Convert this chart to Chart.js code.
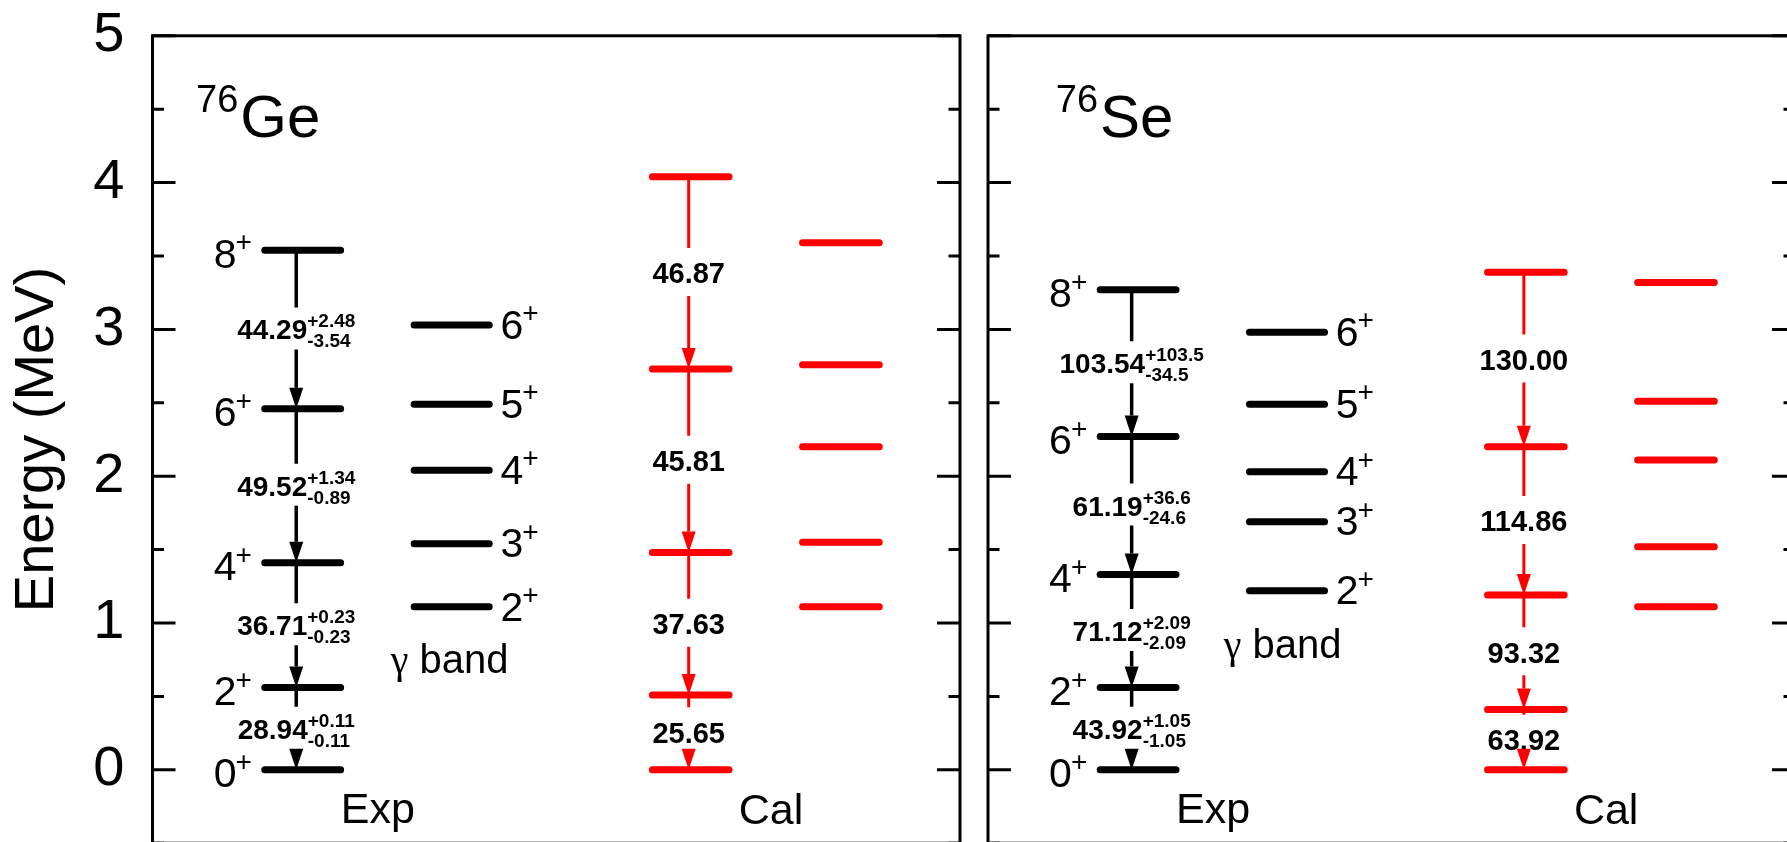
<!DOCTYPE html>
<html>
<head>
<meta charset="utf-8">
<title>Level schemes 76Ge / 76Se</title>
<script src="https://cdn.jsdelivr.net/npm/chart.js@4.4.0/dist/chart.umd.min.js"></script>
<style>
  html, body { margin: 0; padding: 0; background: #fff; overflow: hidden; }
  #wrap { position: relative; width: 1787px; height: 842px; overflow: hidden; }
  #wrap canvas { position: absolute; top: 0; }
</style>
</head>
<body>
<div id="wrap">
  <canvas id="chart-ge" width="975" height="884" style="left:0"></canvas>
  <canvas id="chart-se" width="835" height="884" style="left:975px"></canvas>
</div>
<script>
const FONT = '"Liberation Sans", Arial, Helvetica, sans-serif';
const GREEK = '"Liberation Serif", "Times New Roman", serif';

// spins of the ground band and of the gamma band (all positive parity)
const gsbSpins = ['0', '2', '4', '6', '8'];
const gammaSpins = ['2', '3', '4', '5', '6'];
const yTicks = [0, 1, 2, 3, 4, 5];

// 76Ge level energies (MeV)
const geExpGsb = [0, 0.56, 1.41, 2.46, 3.54];
const geExpGamma = [1.11, 1.54, 2.04, 2.49, 3.03];
const geCalGsb = [0, 0.51, 1.48, 2.73, 4.04];
const geCalGamma = [1.11, 1.55, 2.20, 2.76, 3.59];
// B(E2) (W.u.) for 2->0, 4->2, 6->4, 8->6
const geExpBE2 = [28.94, 36.71, 49.52, 44.29];
const geExpErrUp = [0.11, 0.23, 1.34, 2.48];
const geExpErrDown = [0.11, 0.23, 0.89, 3.54];
const geCalBE2 = [25.65, 37.63, 45.81, 46.87];

// 76Se level energies (MeV)
const seExpGsb = [0, 0.56, 1.33, 2.27, 3.27];
const seExpGamma = [1.22, 1.69, 2.03, 2.49, 2.98];
const seCalGsb = [0, 0.41, 1.19, 2.20, 3.39];
const seCalGamma = [1.11, 1.52, 2.11, 2.51, 3.32];
const seExpBE2 = [43.92, 71.12, 61.19, 103.54];
const seExpErrUp = [1.05, 2.09, 36.6, 103.5];
const seExpErrDown = [1.05, 2.09, 24.6, 34.5];
const seCalBE2 = [63.92, 93.32, 114.86, 130.00];

// column layout on a 0..100 x scale
const cols = {
  expGsb: [13.9, 23.3],
  expGamma: [32.4, 41.7],
  calGsb: [61.9, 71.4],
  calGamma: [80.5, 90.0]
};
const arrowX = { exp: 17.8, cal: 66.4 };
const spinLeftX = 12.3;   // right edge of ground band spin labels
const spinRightX = 43.1;  // left edge of gamma band spin labels

const BLACK = '#000000';
const RED = '#ff0000';

const levelSegments = (energies, span) => {
  const pts = [];
  energies.forEach(e => {
    pts.push({ x: span[0], y: e }, { x: span[1], y: e }, { x: span[1], y: null });
  });
  return pts;
};

const levelDataset = (label, energies, span, color) => ({
  label: label,
  data: levelSegments(energies, span),
  borderColor: color,
  borderWidth: 7,
  borderCapStyle: 'round',
  pointRadius: 0,
  pointHoverRadius: 0,
  spanGaps: false,
  fill: false,
  tension: 0
});

function drawSpin(ctx, px, py, spin, alignRight, dy) {
  ctx.font = `41px ${FONT}`;
  const wd = ctx.measureText(spin).width;
  ctx.font = `28px ${FONT}`;
  const wp = ctx.measureText('+').width;
  const x0 = alignRight ? px - (wd + wp - 1) : px;
  const c = py + dy;
  ctx.textAlign = 'left';
  ctx.textBaseline = 'alphabetic';
  ctx.font = `41px ${FONT}`;
  ctx.fillText(spin, x0, c + 0.358 * 41);
  ctx.font = `28px ${FONT}`;
  ctx.fillText('+', x0 + wd - 1, c - 2);
}

function drawBE2(ctx, cx, cy, value, up, down, size) {
  const main = value.toFixed(2);
  ctx.textAlign = 'left';
  ctx.textBaseline = 'alphabetic';
  ctx.fillStyle = BLACK;
  ctx.font = `bold ${size}px ${FONT}`;
  const wm = ctx.measureText(main).width;
  let ws = 0;
  let sUp = null, sDown = null;
  if (up != null) {
    sUp = '+' + String(up);
    sDown = '-' + String(down);
    ctx.font = `bold 19px ${FONT}`;
    ws = Math.max(ctx.measureText(sUp).width, ctx.measureText(sDown).width);
  }
  const x0 = cx - (wm + ws) / 2;
  ctx.font = `bold ${size}px ${FONT}`;
  ctx.fillText(main, x0, cy + 0.358 * size);
  if (sUp) {
    ctx.font = `bold 19px ${FONT}`;
    ctx.fillText(sUp, x0 + wm, cy - 2);
    ctx.fillText(sDown, x0 + wm, cy + 18);
  }
}

function drawArrow(ctx, px, yTop, yBot, gapTop, gapBot, color, lw) {
  const head = 21, half = 7;
  ctx.strokeStyle = color;
  ctx.fillStyle = color;
  ctx.lineWidth = lw;
  ctx.lineCap = 'butt';
  ctx.beginPath();
  ctx.moveTo(px, yTop);
  ctx.lineTo(px, Math.max(yTop, gapTop));
  if (gapBot < yBot - head) {
    ctx.moveTo(px, gapBot);
    ctx.lineTo(px, yBot - head);
  }
  ctx.stroke();
  ctx.beginPath();
  ctx.moveTo(px - half, yBot - head);
  ctx.lineTo(px + half, yBot - head);
  ctx.lineTo(px, yBot);
  ctx.closePath();
  ctx.fill();
}

// frame, inward ticks, labels and B(E2) arrows for one nucleus
function schemePlugin(p) {
  return {
    id: 'scheme',
    afterDatasetsDraw(chart) {
      const { ctx, chartArea: a, scales: { x, y } } = chart;
      const X = v => x.getPixelForValue(v);
      const Y = v => y.getPixelForValue(v);
      ctx.save();

      ctx.strokeStyle = BLACK;
      ctx.lineWidth = 3;
      ctx.lineCap = 'butt';
      ctx.strokeRect(a.left, a.top, a.right - a.left, a.bottom - a.top);
      ctx.beginPath();
      yTicks.forEach(v => {
        const py = Y(v);
        ctx.moveTo(a.left, py); ctx.lineTo(a.left + 23, py);
        ctx.moveTo(a.right, py); ctx.lineTo(a.right - 23, py);
        const pm = Y(v - 0.5);
        ctx.moveTo(a.left, pm); ctx.lineTo(a.left + 11.5, pm);
        ctx.moveTo(a.right, pm); ctx.lineTo(a.right - 11.5, pm);
      });
      ctx.stroke();

      ctx.fillStyle = BLACK;
      // nucleus name with mass number
      const tx = X(p.titleAt[0]), ty = Y(p.titleAt[1]);
      ctx.textAlign = 'left';
      ctx.textBaseline = 'alphabetic';
      ctx.font = `38px ${FONT}`;
      ctx.fillText(p.nucleus[0], tx, ty - 25);
      const wMass = ctx.measureText(p.nucleus[0]).width;
      ctx.font = `60px ${FONT}`;
      ctx.fillText(p.nucleus[1], tx + wMass + 2, ty);

      // column captions
      ctx.font = `43px ${FONT}`;
      ctx.textAlign = 'center';
      ctx.fillText('Exp', X(27.9), Y(-0.36));
      ctx.fillText('Cal', X(76.6), Y(-0.37));
      ctx.textAlign = 'left';
      const bx = X(p.bandAt[0]), by = Y(p.bandAt[1]);
      ctx.font = `40px ${GREEK}`;
      ctx.fillText('\u03b3', bx, by);
      const wg = ctx.measureText('\u03b3').width;
      ctx.font = `40px ${FONT}`;
      ctx.fillText(' band', bx + wg, by);

      // spin labels of the measured levels
      p.expGsb.forEach((e, i) => drawSpin(ctx, X(spinLeftX), Y(e), gsbSpins[i], true, 3));
      p.expGamma.forEach((e, i) => drawSpin(ctx, X(spinRightX), Y(e), gammaSpins[i], false, -1));

      // in-band E2 transitions
      for (let i = 1; i < p.expGsb.length; i++) {
        const y1 = Y(p.expGsb[i]), y2 = Y(p.expGsb[i - 1]);
        const c = (y1 + y2) / 2;
        drawBE2(ctx, X(arrowX.exp), c, p.expBE2[i - 1], p.errUp[i - 1], p.errDown[i - 1], 28);
        drawArrow(ctx, X(arrowX.exp), y1, y2, c - 22, c + 20, BLACK, 3.5);
      }
      for (let i = 1; i < p.calGsb.length; i++) {
        const y1 = Y(p.calGsb[i]), y2 = Y(p.calGsb[i - 1]);
        const c = (y1 + y2) / 2;
        drawBE2(ctx, X(arrowX.cal), c, p.calBE2[i - 1], null, null, 29);
        drawArrow(ctx, X(arrowX.cal), y1, y2, c - 25, c + 23, RED, 3);
      }
      ctx.restore();
    }
  };
}

function makeChart(p) {
  const ctx = document.getElementById(p.canvas);
  const yScale = {
    type: 'linear',
    min: -0.5,
    max: 5,
    display: p.showAxis,
    afterBuildTicks: s => { s.ticks = yTicks.map(v => ({ value: v })); },
    grid: { display: false, drawTicks: false },
    border: { display: false },
    ticks: { color: BLACK, padding: 28, font: { family: FONT, size: 56 } },
    title: {
      display: true,
      text: 'Energy (MeV)',
      color: BLACK,
      padding: { top: 4, bottom: 0 },
      font: { family: FONT, size: 56 }
    }
  };
  if (p.showAxis) {
    // fixed axis width; tick labels must not push the plot area inwards
    yScale.afterFit = s => {
      s.width = 152.5;
      s.paddingTop = 0;
      s.paddingBottom = 0;
    };
  }
  return new Chart(ctx, {
    type: 'line',
    data: {
      datasets: [
        levelDataset('Exp g.s. band', p.expGsb, cols.expGsb, BLACK),
        levelDataset('Exp gamma band', p.expGamma, cols.expGamma, BLACK),
        levelDataset('Cal g.s. band', p.calGsb, cols.calGsb, RED),
        levelDataset('Cal gamma band', p.calGamma, cols.calGamma, RED)
      ]
    },
    options: {
      responsive: false,
      maintainAspectRatio: false,
      animation: false,
      events: [],
      layout: { padding: p.padding },
      plugins: { legend: { display: false }, tooltip: { enabled: false }, title: { display: false } },
      scales: {
        x: { type: 'linear', min: 0, max: 100, display: false },
        y: yScale
      }
    },
    plugins: [schemePlugin(p)]
  });
}

makeChart({
  canvas: 'chart-ge',
  nucleus: ['76', 'Ge'],
  expGsb: geExpGsb, expGamma: geExpGamma,
  calGsb: geCalGsb, calGamma: geCalGamma,
  expBE2: geExpBE2, errUp: geExpErrUp, errDown: geExpErrDown, calBE2: geCalBE2,
  showAxis: true,
  padding: { left: 0, right: 15, top: 35.8, bottom: 40.8 },
  titleAt: [5.4, 4.31],
  bandAt: [29.5, 0.66]
});

makeChart({
  canvas: 'chart-se',
  nucleus: ['76', 'Se'],
  expGsb: seExpGsb, expGamma: seExpGamma,
  calGsb: seCalGsb, calGamma: seCalGamma,
  expBE2: seExpBE2, errUp: seExpErrUp, errDown: seExpErrDown, calBE2: seCalBE2,
  showAxis: false,
  padding: { left: 13, right: 15, top: 35.8, bottom: 40.8 },
  titleAt: [8.4, 4.31],
  bandAt: [29.2, 0.76]
});
</script>
</body>
</html>
